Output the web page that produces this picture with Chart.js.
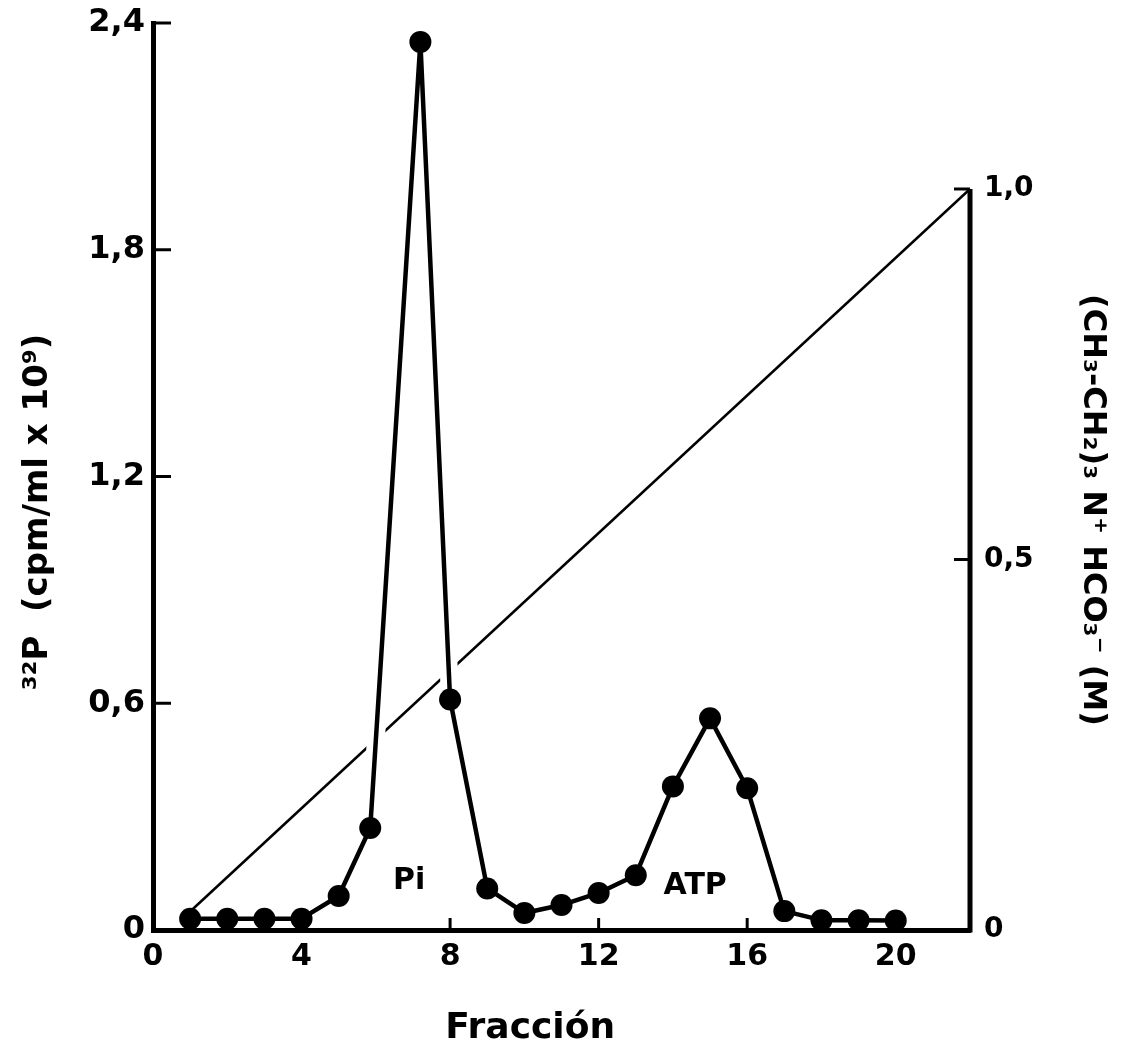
<!DOCTYPE html>
<html>
<head>
<meta charset="utf-8">
<script src="https://cdn.jsdelivr.net/npm/chart.js@4.4.1/dist/chart.umd.min.js"></script>
<style>
  html, body { margin: 0; padding: 0; background: #fff; }
  #wrap { width: 1129px; height: 1050px; }
</style>
</head>
<body>
<div id="wrap"><canvas id="chart"></canvas></div>
<script>
// fraction positions as plotted, and their 32P counts (cpm/ml x 10^9)
const fractions = [1, 2, 3, 4, 5, 5.85, 7.2, 8, 9, 10, 11, 12, 13, 14, 15, 16, 17, 18, 19, 20];
const p32Counts = [0.03, 0.03, 0.03, 0.03, 0.09, 0.27, 2.35, 0.61, 0.11, 0.045,
                   0.066, 0.098, 0.145, 0.38, 0.56, 0.375, 0.05, 0.026, 0.026, 0.025];

// triethylammonium bicarbonate gradient (M)
const gradientFractions = [1, 22];
const gradientMolar = [0.025, 1.0];

const xTicks = [0, 4, 8, 12, 16, 20];
const xTickLabels = ['0', '4', '8', '12', '16', '20'];
const leftTicks = [0, 0.6, 1.2, 1.8, 2.4];
const leftTickLabels = ['0', '0,6', '1,2', '1,8', '2,4'];
const rightTicks = [0, 0.5, 1.0];
const rightTickLabels = ['0', '0,5', '1,0'];

const peakNames = ['Pi', 'ATP'];

const xTitle = 'Fracción';
const leftTitle = '³²P  (cpm/ml x 10⁹)';
const rightTitle = '(CH₃-CH₂)₃ N⁺ HCO₃⁻ (M)';

Chart.defaults.font.family = 'DejaVu Sans';
Chart.defaults.font.weight = 'bold';
Chart.defaults.color = '#000';

function toPoints(xs, ys) {
    return xs.map((x, i) => ({ x: x, y: ys[i] }));
}

// keep the tick labels from pushing the plot area down
function fixVertical(width) {
    return s => {
        s.width = width;
        s.paddingTop = 0;
        s.paddingBottom = 0;
    };
}

// inward tick marks and the short right axis
const axisMarks = {
    id: 'axisMarks',
    afterDraw(chart) {
        const { ctx, chartArea } = chart;
        const { x, y, y1 } = chart.scales;
        const line = (x1, y1p, x2, y2p) => {
            ctx.beginPath();
            ctx.moveTo(x1, y1p);
            ctx.lineTo(x2, y2p);
            ctx.stroke();
        };
        ctx.save();
        ctx.strokeStyle = '#000';
        ctx.lineWidth = 5;
        line(chartArea.right, y1.getPixelForValue(0) + 2.5, chartArea.right, y1.getPixelForValue(1.0));
        ctx.lineWidth = 3;
        leftTicks.slice(1).forEach(v => {
            const py = y.getPixelForValue(v);
            line(chartArea.left, py, chartArea.left + 18, py);
        });
        rightTicks.slice(1).forEach(v => {
            const py = y1.getPixelForValue(v);
            line(chartArea.right - 16, py, chartArea.right, py);
        });
        xTicks.slice(1).forEach(v => {
            const px = x.getPixelForValue(v);
            line(px, chartArea.bottom, px, chartArea.bottom - 12);
        });
        ctx.restore();
    }
};

// peak names written inside the plot
const peakLabels = {
    id: 'peakLabels',
    afterDatasetsDraw(chart) {
        const { ctx } = chart;
        const { x, y } = chart.scales;
        const spots = [[6.9, 0.13], [14.6, 0.115]];
        ctx.save();
        ctx.font = 'bold 30px "DejaVu Sans"';
        ctx.fillStyle = '#000';
        ctx.textAlign = 'center';
        ctx.textBaseline = 'middle';
        peakNames.forEach((name, i) => {
            ctx.fillText(name, x.getPixelForValue(spots[i][0]), y.getPixelForValue(spots[i][1]));
        });
        ctx.restore();
    }
};

const ctx = document.getElementById('chart');
new Chart(ctx, {
    type: 'line',
    data: {
        datasets: [
            {
                label: '32P',
                data: toPoints(fractions, p32Counts),
                yAxisID: 'y',
                borderColor: '#000',
                backgroundColor: '#000',
                borderWidth: 4.5,
                borderJoinStyle: 'round',
                pointRadius: 11,
                pointBorderWidth: 0,
                pointBackgroundColor: '#000',
                order: 0
            },
            {
                // white halo so the gradient line breaks where the peak crosses it
                label: 'halo',
                data: toPoints(fractions, p32Counts),
                yAxisID: 'y',
                borderWidth: 18,
                pointRadius: 0,
                segment: {
                    borderColor: c => (c.p0DataIndex === 5 || c.p0DataIndex === 6) ? '#fff' : 'rgba(0,0,0,0)'
                },
                order: 1
            },
            {
                label: 'gradiente',
                data: toPoints(gradientFractions, gradientMolar),
                yAxisID: 'y1',
                borderColor: '#000',
                borderWidth: 2.5,
                pointRadius: 0,
                order: 2
            }
        ]
    },
    options: {
        responsive: true,
        maintainAspectRatio: false,
        animation: false,
        layout: { padding: { top: 23, left: 0, right: 0, bottom: 0 } },
        plugins: {
            legend: { display: false },
            tooltip: { enabled: false }
        },
        scales: {
            x: {
                type: 'linear',
                min: 0,
                max: 22,
                afterBuildTicks: s => { s.ticks = xTicks.map(v => ({ value: v })); },
                afterFit: s => { s.height = 120; },
                grid: { drawOnChartArea: false, drawTicks: false },
                border: { display: true, color: '#000', width: 5 },
                ticks: {
                    callback: (v, i) => xTickLabels[i],
                    font: { size: 30, weight: 'bold' },
                    padding: 9,
                    maxRotation: 0,
                    autoSkip: false
                },
                title: {
                    display: true,
                    text: xTitle + ' '.repeat(5),
                    font: { size: 36, weight: 'bold' },
                    padding: { top: 0, bottom: 0 }
                }
            },
            y: {
                position: 'left',
                min: 0,
                max: 2.4,
                afterBuildTicks: s => { s.ticks = leftTicks.map(v => ({ value: v })); },
                afterFit: fixVertical(153),
                grid: { drawOnChartArea: false, drawTicks: false },
                border: { display: true, color: '#000', width: 5 },
                ticks: {
                    callback: (v, i) => leftTickLabels[i],
                    font: { size: 32, weight: 'bold' },
                    padding: 8
                },
                title: {
                    display: true,
                    text: leftTitle + ' '.repeat(6),
                    font: { size: 34, weight: 'bold' },
                    padding: { top: 18, bottom: 0 }
                }
            },
            y1: {
                position: 'right',
                min: 0,
                max: 1.224,
                afterBuildTicks: s => { s.ticks = rightTicks.map(v => ({ value: v })); },
                afterFit: fixVertical(159),
                grid: { drawOnChartArea: false, drawTicks: false },
                border: { display: false },
                ticks: {
                    callback: (v, i) => rightTickLabels[i],
                    font: { size: 28, weight: 'bold' },
                    padding: 14
                },
                title: {
                    display: true,
                    text: ' '.repeat(6) + rightTitle,
                    font: { size: 32, weight: 'bold' },
                    padding: { top: 17, bottom: 0 }
                }
            }
        }
    },
    plugins: [axisMarks, peakLabels]
});
</script>
</body>
</html>
